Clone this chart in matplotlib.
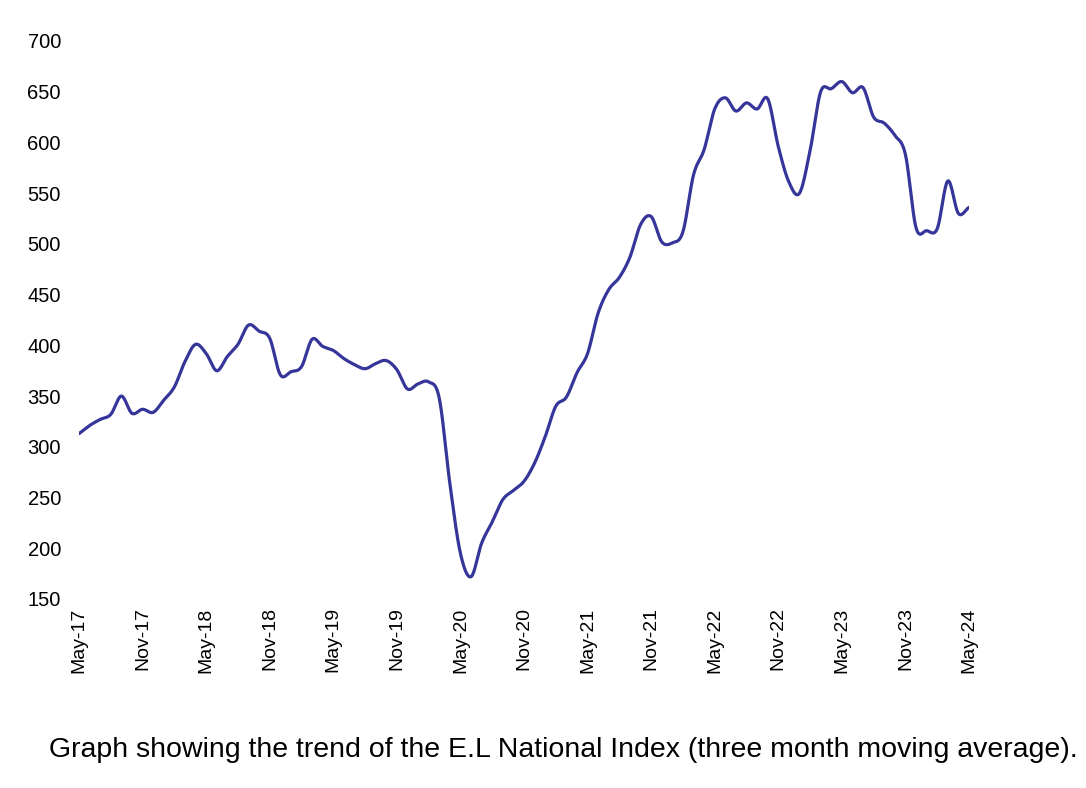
import numpy as np
import matplotlib
matplotlib.use('Agg')
import matplotlib.pyplot as plt

# monthly values, May-17 .. May-24 (three month moving average)
months = ['May-17', 'Jun-17', 'Jul-17', 'Aug-17', 'Sep-17', 'Oct-17', 'Nov-17', 'Dec-17',
          'Jan-18', 'Feb-18', 'Mar-18', 'Apr-18', 'May-18', 'Jun-18', 'Jul-18', 'Aug-18',
          'Sep-18', 'Oct-18', 'Nov-18', 'Dec-18', 'Jan-19', 'Feb-19', 'Mar-19', 'Apr-19',
          'May-19', 'Jun-19', 'Jul-19', 'Aug-19', 'Sep-19', 'Oct-19', 'Nov-19', 'Dec-19',
          'Jan-20', 'Feb-20', 'Mar-20', 'Apr-20', 'May-20', 'Jun-20', 'Jul-20', 'Aug-20',
          'Sep-20', 'Oct-20', 'Nov-20', 'Dec-20', 'Jan-21', 'Feb-21', 'Mar-21', 'Apr-21',
          'May-21', 'Jun-21', 'Jul-21', 'Aug-21', 'Sep-21', 'Oct-21', 'Nov-21', 'Dec-21',
          'Jan-22', 'Feb-22', 'Mar-22', 'Apr-22', 'May-22', 'Jun-22', 'Jul-22', 'Aug-22',
          'Sep-22', 'Oct-22', 'Nov-22', 'Dec-22', 'Jan-23', 'Feb-23', 'Mar-23', 'Apr-23',
          'May-23', 'Jun-23', 'Jul-23', 'Aug-23', 'Sep-23', 'Oct-23', 'Nov-23', 'Dec-23',
          'Jan-24', 'Feb-24', 'Mar-24', 'Apr-24', 'May-24']

index_values = [313, 321, 327, 332, 350, 333, 337, 334,
                346, 359, 384, 401, 392, 375, 389, 401,
                420, 414, 407, 371, 374, 379, 406, 399,
                395, 387, 381, 377, 382, 385, 376, 357,
                362, 364, 348, 264, 195, 172, 205, 226,
                248, 257, 266, 284, 310, 340, 349, 373,
                392, 432, 455, 467, 487, 519, 527, 502,
                501, 512, 568, 593, 633, 644, 631, 639,
                633, 643, 596, 561, 550, 592, 650, 653,
                660, 649, 654, 625, 619, 607, 588, 516,
                513, 515, 562, 530, 536]

yticks = [150, 200, 250, 300, 350, 400, 450, 500, 550, 600, 650, 700]


# smoothed line like the spreadsheet's "smooth line" option (Catmull-Rom)
def smooth(x, y, n=20):
    x = np.asarray(x, float)
    y = np.asarray(y, float)
    px = np.concatenate([[2*x[0]-x[1]], x, [2*x[-1]-x[-2]]])
    py = np.concatenate([[2*y[0]-y[1]], y, [2*y[-1]-y[-2]]])
    t = np.linspace(0, 1, n, endpoint=False)
    xs, ys = [], []
    for i in range(1, len(px)-2):
        for p, out in ((px, xs), (py, ys)):
            p0, p1, p2, p3 = p[i-1], p[i], p[i+1], p[i+2]
            out.append(0.5*((2*p1) + (-p0+p2)*t + (2*p0-5*p1+4*p2-p3)*t**2
                            + (-p0+3*p1-3*p2+p3)*t**3))
    xs.append([x[-1]])
    ys.append([y[-1]])
    return np.concatenate(xs), np.concatenate(ys)


plt.rcParams['font.family'] = ['Liberation Sans', 'DejaVu Sans']

fig = plt.figure(figsize=(10.86, 7.88), dpi=100)
ax = fig.add_axes([79/1086, 189/788, 890/1086, 558/788])

x = np.arange(len(months))
sx, sy = smooth(x, index_values)
ax.plot(sx, sy, color='#35359a', linewidth=2.3, solid_capstyle='round')

ax.set_xlim(0, len(months)-1)
ax.set_ylim(150, 700)
ax.set_yticks(yticks)
ax.set_xticks(x[::6])
ax.set_xticklabels(months[::6], rotation=90, fontsize=14)
ax.tick_params(axis='y', labelsize=14.5, length=0, pad=13)
ax.tick_params(axis='x', length=0, pad=6)
for s in ax.spines.values():
    s.set_visible(False)

fig.text(563/1086, 1-750/788,
         'Graph showing the trend of the E.L National Index (three month moving average).',
         ha='center', va='center', fontsize=20.5)

fig.savefig('out.png', dpi=100)
